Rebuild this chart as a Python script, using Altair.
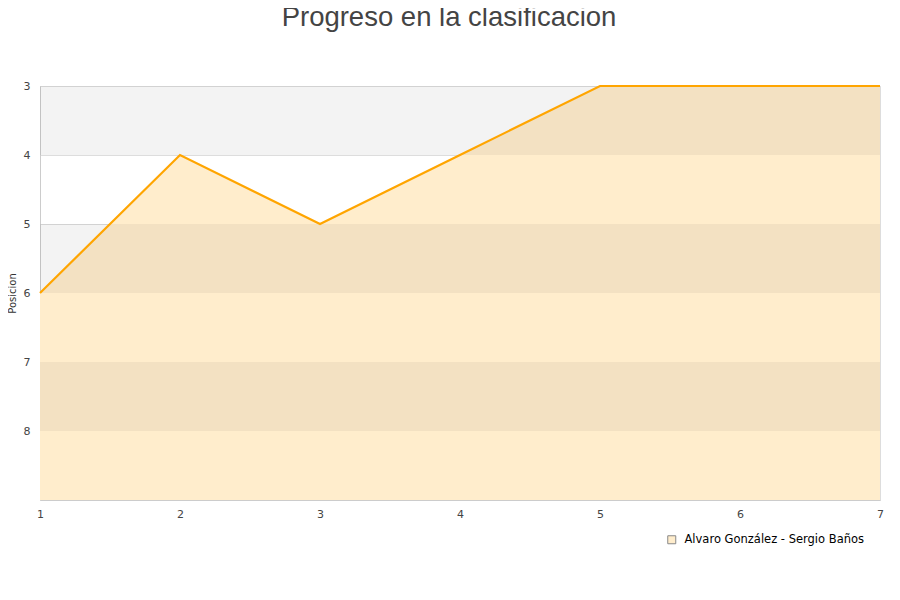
import altair as alt
import pandas as pd

jornadas = [1, 2, 3, 4, 5, 6, 7]
posiciones = [6, 4, 5, 4, 3, 3, 3]
serie = "Alvaro González - Sergio Baños"

band_start = [3, 5, 7]
band_end = [4, 6, 8]

y_ticks = [3, 4, 5, 6, 7, 8]
x_ticks = [1, 2, 3, 4, 5, 6, 7]

df = pd.DataFrame({"jornada": jornadas, "posicion": posiciones, "serie": [serie] * len(jornadas)})
bands = pd.DataFrame({"y0": band_start, "y1": band_end})

yscale = alt.Scale(domain=[3, 9], reverse=True, nice=False, zero=False)
xscale = alt.Scale(domain=[1, 7], nice=False, zero=False)

area = alt.Chart(df).mark_area().encode(
    x=alt.X("jornada:Q", scale=xscale,
            axis=alt.Axis(values=x_ticks, title=None, grid=False, ticks=False,
                          labelPadding=8, labelFlush=False, format="d")),
    y=alt.Y("posicion:Q", scale=yscale,
            axis=alt.Axis(values=y_ticks, title="Posicion", grid=True, ticks=False,
                          labelPadding=10, titlePadding=6, format="d")),
    y2=alt.datum(9),
    color=alt.Color("serie:N", scale=alt.Scale(range=["#ffedcc"]),
                    legend=alt.Legend(title=None, orient="none", legendX=626, legendY=448,
                                      symbolType="square", symbolSize=64,
                                      symbolStrokeColor="#888888", symbolStrokeWidth=1,
                                      labelOffset=7, padding=0, labelLimit=400,
                                      labelFont="DejaVu Sans", labelFontSize=11.5,
                                      labelColor="#000000")),
)

band_layer = alt.Chart(bands).mark_rect(color="#000000", opacity=0.047).encode(
    x=alt.value(0),
    x2=alt.value("width"),
    y=alt.Y("y0:Q", scale=yscale),
    y2="y1:Q",
)

line = alt.Chart(df).mark_line(color="#ffa500", strokeWidth=2.2).encode(
    x=alt.X("jornada:Q", scale=xscale),
    y=alt.Y("posicion:Q", scale=yscale),
)

chart = alt.layer(area, band_layer, line).properties(
    width=840,
    height=414,
    padding={"left": 32, "top": 78, "right": 12, "bottom": 92},
    autosize=alt.AutoSizeParams(type="none"),
    title=alt.TitleParams("Progreso en la clasificacion", font="Liberation Sans",
                          fontSize=27.5, fontWeight="normal", color="#444444",
                          anchor="middle", baseline="bottom", offset=21, dx=-11),
).configure_view(stroke="#dddddd").configure_axis(
    labelFont="DejaVu Sans", labelFontSize=11, labelColor="#444444",
    titleFont="DejaVu Sans", titleFontSize=10, titleFontWeight="normal", titleColor="#333333",
    gridColor="#dddddd", domainColor="#cccccc", zindex=1,
)

chart.save("out.html", embed_options={"renderer": "svg", "actions": False})
